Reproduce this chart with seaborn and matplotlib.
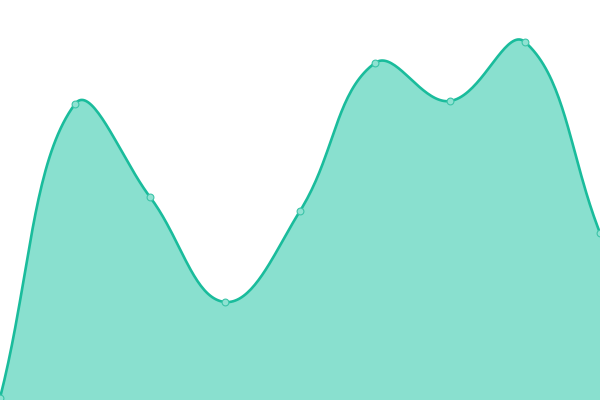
import numpy as np
import pandas as pd
import matplotlib
matplotlib.use("Agg")
import matplotlib.pyplot as plt
import seaborn as sns

# point positions and values (value = height above the bottom edge)
x_pos = [0, 75, 150, 225, 300, 375, 450, 525, 600]
values = [2, 296, 203, 98, 189, 337, 299, 358, 167]

line_color = "#1abc9c"
fill_color = "#89e0cf"


def smooth_curve(xs, ys, tension=0.4, n=40):
    # bezier spline, control points scaled by neighbour distances
    P = np.column_stack([xs, ys]).astype(float)
    m = len(P)
    cp_prev = np.zeros_like(P)
    cp_next = np.zeros_like(P)
    for i in range(m):
        prev = P[max(i - 1, 0)]
        nxt = P[min(i + 1, m - 1)]
        d01 = np.hypot(*(P[i] - prev))
        d12 = np.hypot(*(nxt - P[i]))
        tot = d01 + d12
        s01 = d01 / tot if tot else 0
        s12 = d12 / tot if tot else 0
        cp_prev[i] = P[i] - tension * s01 * (nxt - prev)
        cp_next[i] = P[i] + tension * s12 * (nxt - prev)
    cp_prev[:, 1] = np.clip(cp_prev[:, 1], 0, 400)
    cp_next[:, 1] = np.clip(cp_next[:, 1], 0, 400)
    t = np.linspace(0, 1, n, endpoint=False)[:, None]
    segs = []
    for i in range(m - 1):
        a, b, c, d = P[i], cp_next[i], cp_prev[i + 1], P[i + 1]
        segs.append((1 - t)**3 * a + 3 * (1 - t)**2 * t * b + 3 * (1 - t) * t**2 * c + t**3 * d)
    segs.append(P[-1:])
    out = np.vstack(segs)
    return out[:, 0], out[:, 1]


cx, cy = smooth_curve(x_pos, values)
curve = pd.DataFrame({"x": cx, "y": cy})
pts = pd.DataFrame({"x": x_pos, "y": values})

sns.set_style("white")
fig = plt.figure(figsize=(6, 4), dpi=100)
ax = fig.add_axes([0, 0, 1, 1])

ax.fill_between(cx, cy, 0, color=fill_color, linewidth=0)
sns.lineplot(data=curve, x="x", y="y", ax=ax, color=line_color, linewidth=1.9, sort=False)
sns.scatterplot(data=pts, x="x", y="y", ax=ax, s=24, color="#8fe2d2",
                edgecolor="#3cc4a8", linewidth=0.8, zorder=5)

ax.set_xlim(0, 600)
ax.set_ylim(0, 400)
ax.axis("off")

fig.savefig("out.png", dpi=100)
